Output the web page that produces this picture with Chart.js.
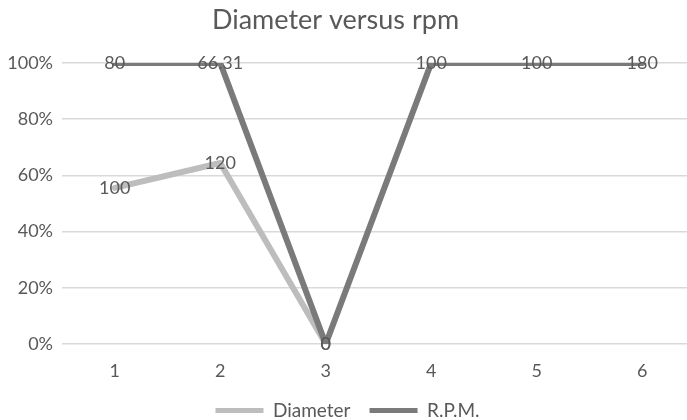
<!DOCTYPE html>
<html>
<head>
<meta charset="utf-8">
<script src="https://cdn.jsdelivr.net/npm/chart.js@4"></script>
<style>
    html, body { margin: 0; padding: 0; background: #fff; overflow: hidden; }
    #wrap { width: 695px; height: 430px; }
</style>
</head>
<body>
<div id="wrap"><canvas id="chart"></canvas></div>
<script>
// raw values as typed in the sheet (100% stacked line)
const categories = ['1', '2', '3', '4', '5', '6'];
const diameter = [100, 120, 0, null, null, null];
const rpm = [80, 66.31, 0, 100, 100, 180];
const yTicks = [0, 0.2, 0.4, 0.6, 0.8, 1];
const chartTitle = 'Diameter versus rpm';

const textColor = '#595959';

// 100% stacking: each series is its cumulative share of the column total
const totals = categories.map((c, i) => (diameter[i] || 0) + (rpm[i] || 0));
const diameterPct = diameter.map((v, i) => v === null ? null : (totals[i] ? v / totals[i] : 0));
const rpmPct = rpm.map((v, i) => v === null ? null : (totals[i] ? ((diameter[i] || 0) + v) / totals[i] : 0));

const valueLabels = {
    id: 'valueLabels',
    afterDatasetsDraw(chart) {
        const ctx = chart.ctx;
        ctx.save();
        ctx.font = '18px Lato';
        ctx.fillStyle = textColor;
        ctx.textAlign = 'center';
        ctx.textBaseline = 'middle';
        chart.data.datasets.forEach((ds, di) => {
            const meta = chart.getDatasetMeta(di);
            meta.data.forEach((pt, i) => {
                const v = ds.rawValues[i];
                if (v === null || v === undefined) return;
                ctx.fillText(String(v), pt.x, pt.y);
            });
        });
        ctx.restore();
    }
};

// excel puts the title a bit left of the canvas centre
const titlePlugin = {
    id: 'titlePlugin',
    afterDraw(chart) {
        const ctx = chart.ctx;
        ctx.save();
        ctx.font = '27px Lato';
        ctx.fillStyle = textColor;
        ctx.textAlign = 'center';
        ctx.textBaseline = 'middle';
        ctx.fillText(chartTitle, chart.width / 2 - 12, 20);
        ctx.restore();
    }
};

new Chart(document.getElementById('chart'), {
    type: 'line',
    data: {
        labels: categories,
        datasets: [
            { label: 'R.P.M.', data: rpmPct, rawValues: rpm, borderColor: '#7a7a7a', backgroundColor: '#7a7a7a', borderWidth: 6, pointRadius: 0, tension: 0, spanGaps: false, borderJoinStyle: 'round', borderCapStyle: 'round' },
            { label: 'Diameter', data: diameterPct, rawValues: diameter, borderColor: '#bdbdbd', backgroundColor: '#bdbdbd', borderWidth: 6, pointRadius: 0, tension: 0, spanGaps: false, borderJoinStyle: 'round', borderCapStyle: 'round' }
        ]
    },
    options: {
        responsive: true,
        maintainAspectRatio: false,
        animation: false,
        layout: { padding: { top: 63, bottom: 0 } },
        plugins: {
            title: { display: false },
            legend: {
                position: 'bottom',
                reverse: true,
                labels: {
                    color: textColor,
                    font: { family: 'Lato', size: 19 },
                    boxWidth: 48,
                    boxHeight: 5,
                    padding: 19,
                    generateLabels(chart) {
                        return Chart.defaults.plugins.legend.labels.generateLabels(chart)
                            .map(l => ({ ...l, lineWidth: 0 }));
                    }
                }
            },
            tooltip: { enabled: false }
        },
        scales: {
            x: {
                offset: true,
                afterFit(scale) { scale.height = 38; },
                grid: { display: false, drawTicks: false },
                border: { display: false },
                ticks: { color: textColor, font: { family: 'Lato', size: 18 }, padding: 16 }
            },
            y: {
                min: 0,
                max: 1,
                afterBuildTicks(scale) { scale.ticks = yTicks.map(v => ({ value: v })); },
                afterFit(scale) { scale.width = 62; },
                grid: { color: '#d9d9d9', lineWidth: 1.5, drawTicks: false },
                border: { display: false },
                ticks: {
                    color: textColor,
                    font: { family: 'Lato', size: 18 },
                    padding: 9,
                    callback: v => Math.round(v * 100) + '%'
                }
            }
        }
    },
    plugins: [valueLabels, titlePlugin]
});
</script>
</body>
</html>
